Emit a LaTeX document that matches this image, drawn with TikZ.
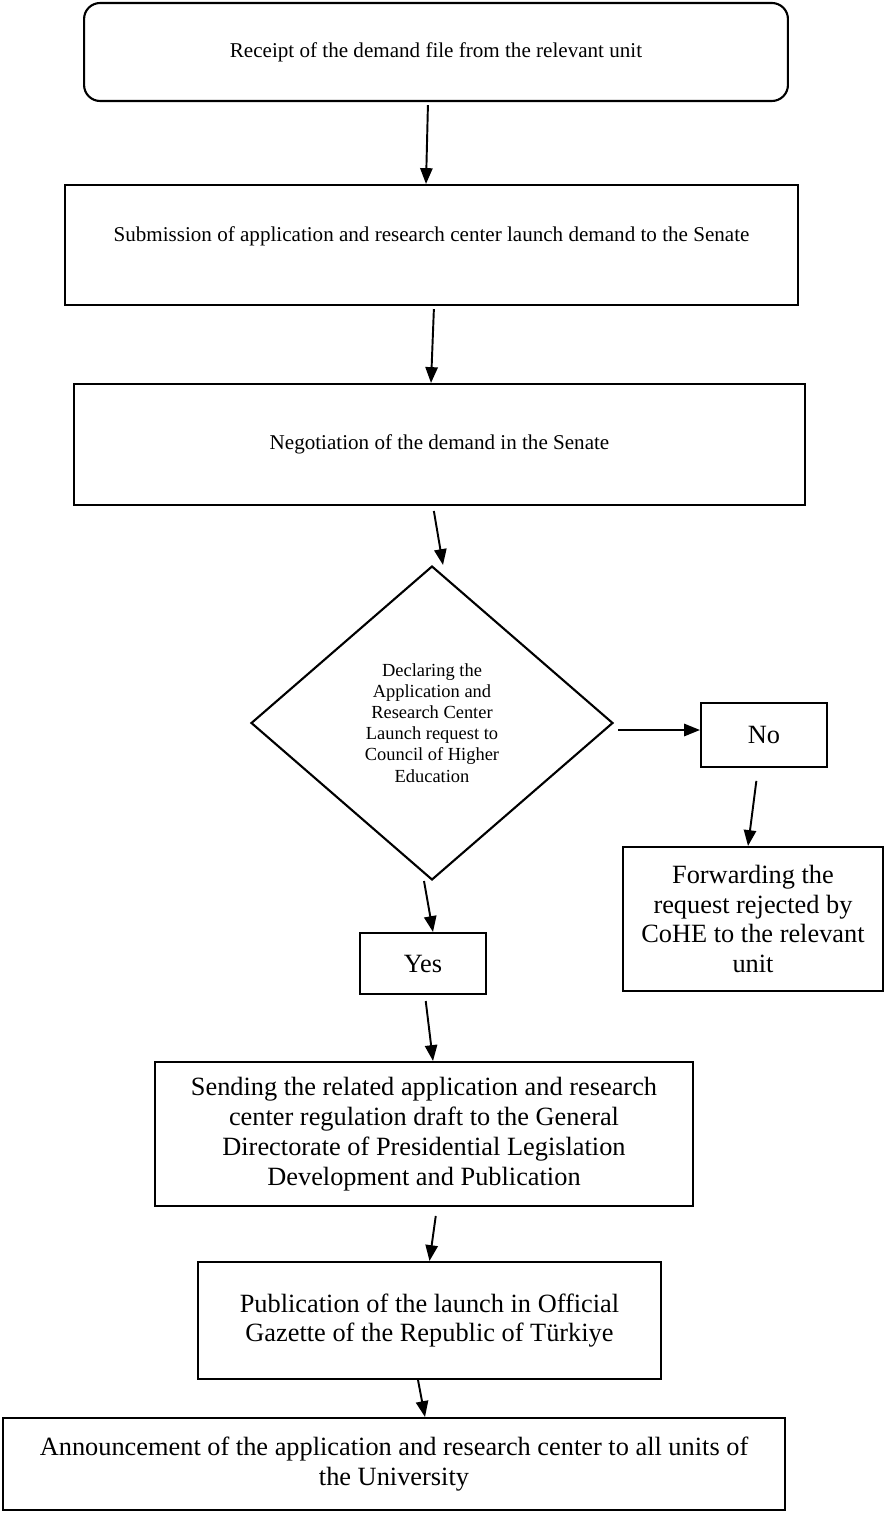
\documentclass[tikz,border=0pt]{standalone}
\usepackage{fontspec}
\setmainfont{Liberation Serif}
\usepackage{tikz}
\usetikzlibrary{shapes.geometric,arrows.meta}
\tikzset{
  procbox/.style={draw=black, line width=1.2pt, rectangle, align=center, inner sep=2pt},
  startbox/.style={procbox, rounded corners=0.32cm},
  decbox/.style={draw=black, line width=1.2pt, diamond, align=center, inner sep=0pt},
  flowarrow/.style={-{Triangle[length=9pt,width=7pt]}, line width=1.1pt},
  smalltext/.style={font=\fontsize{12}{14.5}\selectfont},
  bigtext/.style={font=\fontsize{15}{17}\selectfont},
}

\begin{document}
\begin{tikzpicture}[x=0.02cm, y=-0.02cm]
\useasboundingbox (0,0) rectangle (886,1513);

% main column
\node[startbox, smalltext, minimum width=14.08cm, minimum height=1.96cm] (recv) at (436,52)
  {Receipt of the demand file from the relevant unit};
\node[procbox, smalltext, minimum width=14.66cm, minimum height=2.4cm, text depth=12pt] (subm) at (431.5,245)
  {Submission of application and research center launch demand to the Senate};
\node[procbox, smalltext, minimum width=14.62cm, minimum height=2.42cm] (neg) at (439.5,444.5)
  {Negotiation of the demand in the Senate};
\node[decbox, font=\fontsize{10.5}{12}\selectfont, minimum width=7.24cm, minimum height=6.28cm] (dec) at (432,723)
  {Declaring the\\Application and\\Research Center\\Launch request to\\Council of Higher\\Education};

% answers
\node[procbox, bigtext, minimum width=2.52cm, minimum height=1.28cm] (no) at (764,735) {No};
\node[procbox, bigtext, minimum width=5.2cm, minimum height=2.88cm] (fwd) at (753,919)
  {Forwarding the\\request rejected by\\CoHE to the relevant\\unit};
\node[procbox, bigtext, minimum width=2.52cm, minimum height=1.22cm] (yes) at (423,963.5) {Yes};

\node[procbox, bigtext, minimum width=10.76cm, minimum height=2.88cm] (send) at (424,1134)
  {Sending the related application and research\\center regulation draft to the General\\Directorate of Presidential Legislation\\Development and Publication};
\node[procbox, bigtext, minimum width=9.26cm, minimum height=2.34cm] (pub) at (429.5,1320.5)
  {Publication of the launch in Official\\Gazette of the Republic of Türkiye};
\node[procbox, bigtext, minimum width=15.64cm, minimum height=1.84cm] (ann) at (394,1464)
  {Announcement of the application and research center to all units of\\the University};

% connectors
\draw[flowarrow, shorten <=0.06cm] ([xshift=-0.16cm]recv.south) -- ([xshift=-0.11cm]subm.north);
\draw[flowarrow, shorten <=0.06cm] ([xshift=0.05cm]subm.south) -- ([xshift=-0.17cm]neg.north);
\draw[flowarrow, shorten <=0.1cm] ([xshift=-0.13cm]neg.south) -- ([xshift=0.22cm]dec.north);
\draw[flowarrow] ([xshift=0.08cm,yshift=-0.14cm]dec.east) -- ([yshift=0.1cm]no.west);
\draw[flowarrow, shorten <=0.26cm] ([xshift=-0.12cm]no.south) -- ([xshift=-0.1cm]fwd.north);
\draw[flowarrow] ([xshift=-0.16cm]dec.south) -- ([xshift=0.2cm]yes.north);
\draw[flowarrow, shorten <=0.12cm] ([xshift=0.04cm]yes.south) -- ([xshift=0.18cm]send.north);
\draw[flowarrow, shorten <=0.18cm] ([xshift=0.26cm]send.south) -- (pub.north);
\draw[flowarrow] ([xshift=-0.23cm]pub.south) -- ([xshift=0.62cm]ann.north);
\end{tikzpicture}
\end{document}
